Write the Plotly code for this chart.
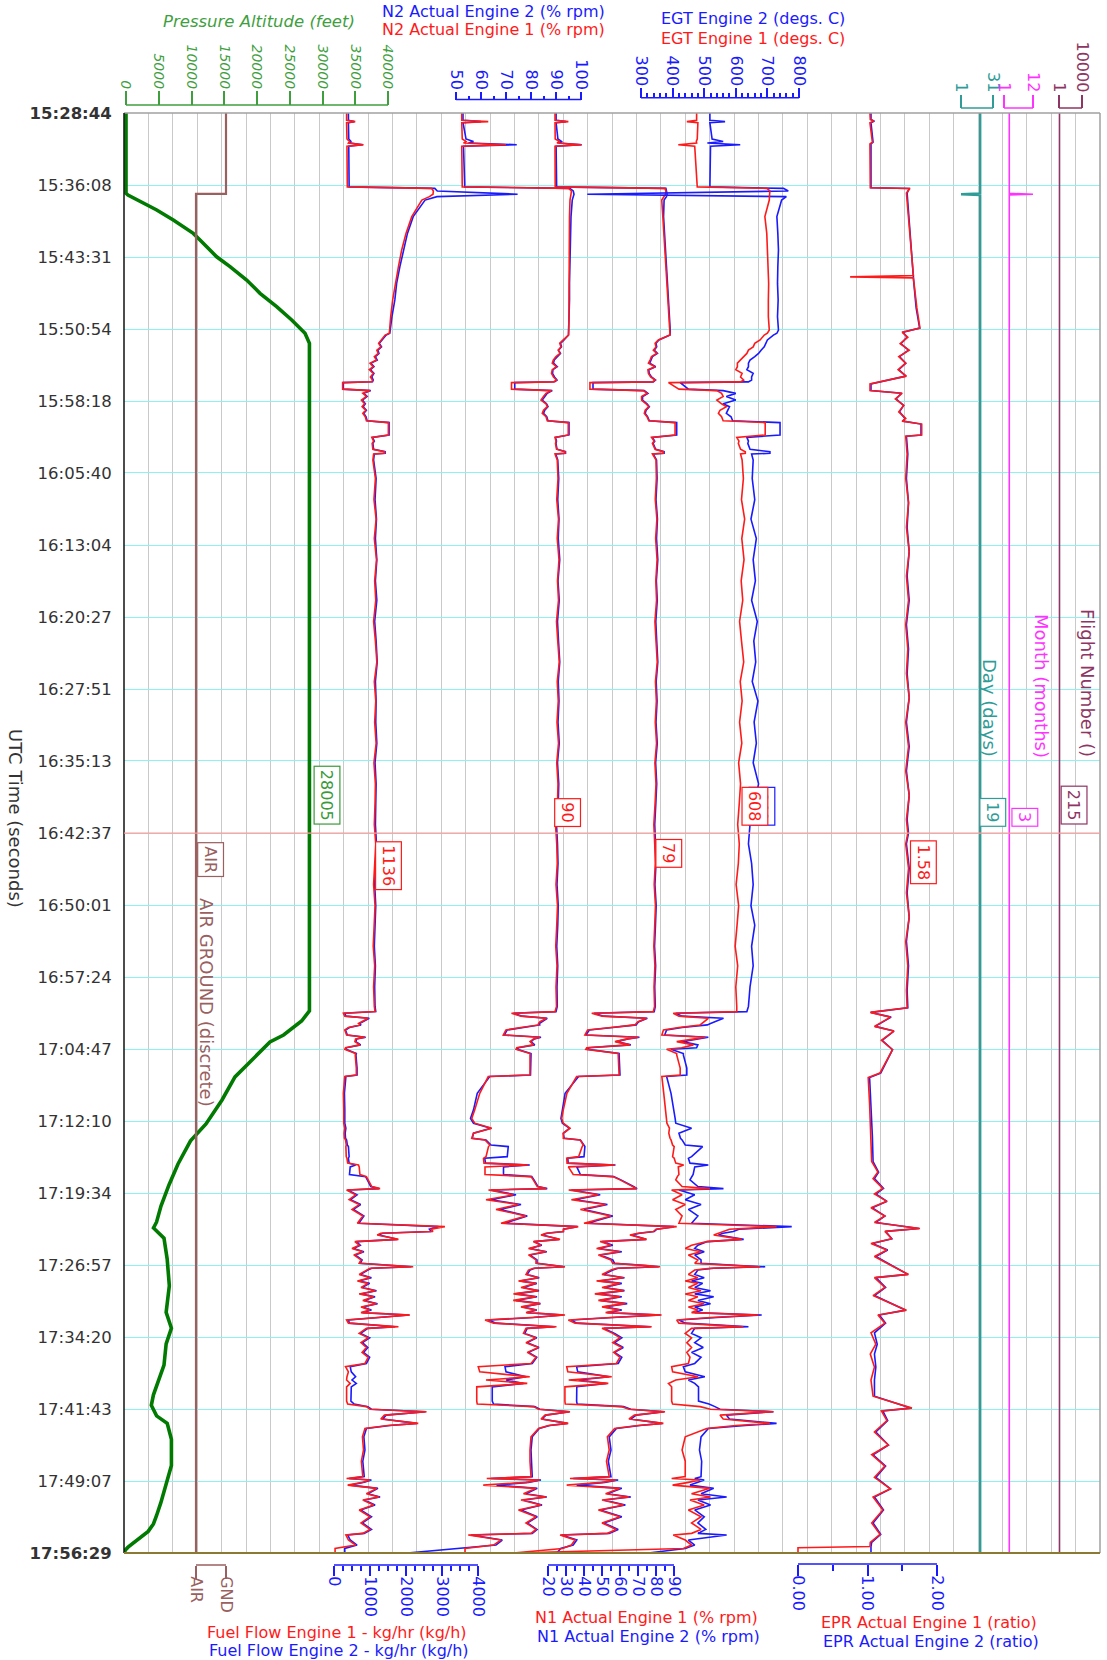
import plotly.graph_objects as go

W, H = 1107, 1660
PL, PR, PT, PB = 124, 1100, 113, 1553
FONT = "DejaVu Sans"

# ---------------- time axis ----------------
TIME_LABELS = ["15:28:44", "15:36:08", "15:43:31", "15:50:54", "15:58:18", "16:05:40",
               "16:13:04", "16:20:27", "16:27:51", "16:35:13", "16:42:37", "16:50:01",
               "16:57:24", "17:04:47", "17:12:10", "17:19:34", "17:26:57", "17:34:20",
               "17:41:43", "17:49:07", "17:56:29"]
CURSOR_TIME = "16:42:37"

# ---------------- data (elapsed seconds from 15:28:44) ----------------
t_alt = [0, 494, 505, 556, 597, 659, 700, 741, 782, 885, 946, 1028, 1110, 1192, 1274, 1356, 1418,
         5528, 5590, 5676, 5719, 5817, 5934, 6076, 6224, 6328, 6470, 6599, 6729, 6827, 6864,
         6927, 7057, 7220, 7383, 7481, 7578, 7709, 7806, 7891, 7956, 8021, 8067, 8165, 8327,
         8425, 8490, 8555, 8634, 8686, 8732, 8771, 8803, 8829, 8849, 8865]
alt_ft = [0, 0, 300, 2640, 4690, 7220, 8750, 10270, 11300, 13840, 15880, 18420, 20460, 23000, 25300, 27330, 28005,
          28005, 26810, 24060, 21980, 19540, 16640, 14660, 12210, 9850, 7940, 6560, 5340, 4670, 4200,
          5800, 6290, 6615, 6130, 6935, 6130, 5800, 4995, 4190, 3865, 4670, 6290, 6935, 6935,
          6290, 5800, 5320, 4670, 4190, 3385, 2090, 960, 315, -170, -170]

t_airgnd = [0, 498, 498, 8865]
airgnd = [1, 1, 0, 0]          # 0 = AIR, 1 = GND
airgnd_labels = ["AIR", "GND"]

t_eng = [0, 45, 53, 60, 160, 175, 185, 195, 205, 455,
         464, 480, 500, 515, 536,
         638, 741, 843, 946, 1049, 1151, 1254, 1336,
         1356, 1367, 1397, 1418, 1440, 1460, 1480, 1500, 1521, 1540,
         1562, 1580, 1603, 1625, 1644, 1655, 1660, 1700, 1709, 1726,
         1745, 1767, 1790, 1808, 1830, 1849, 1870, 1895, 1906, 1982,
         1997, 2020, 2034, 2070, 2085, 2095, 2099, 2136,
         2250, 2380, 2500, 2620, 2750, 2880, 3000, 3130, 3250, 3380,
         3500, 3620, 3750, 3880, 4000, 4130, 4250, 4380, 4500, 4620,
         4750, 4880, 5000, 5130, 5250, 5380, 5500,
         5532, 5542, 5560, 5573, 5594, 5605, 5614, 5630, 5645, 5676,
         5690, 5700, 5717, 5737, 5755, 5764, 5790, 5799, 5880, 5922,
         5932, 6035, 6137, 6190, 6219, 6250, 6281, 6312, 6322, 6353,
         6363, 6425, 6435, 6465, 6476, 6488, 6535, 6548, 6568, 6609,
         6622, 6630, 6660, 6690, 6720, 6750, 6790, 6835, 6856, 6872,
         6886, 6897, 6907, 6934, 6948, 6970, 6990, 7010, 7030, 7061,
         7082, 7095, 7103, 7112, 7123, 7150, 7170, 7190, 7205, 7230,
         7250, 7270, 7287, 7310, 7330, 7350, 7369, 7385, 7400, 7415,
         7431, 7450, 7472, 7482, 7513, 7540, 7570, 7600, 7630, 7660,
         7698, 7718, 7750, 7780, 7800, 7821, 7842, 7930, 7948, 7964,
         7980, 7995, 8005, 8016, 8040, 8067, 8080, 8098, 8150, 8231,
         8300, 8395, 8406, 8416, 8430, 8447, 8467, 8500, 8520, 8539,
         8570, 8600, 8642, 8680, 8720, 8744, 8754, 8785, 8816, 8837,
         8865]

ff_e1 = [350, 350, 590, 350, 360, 430, 400, 820, 360, 370,
         2710, 2760, 2750, 2650, 2440,
         2160, 2000, 1880, 1790, 1700, 1630, 1575, 1540,
         1537, 1420, 1324, 1240, 1300, 1190, 1230, 1120, 1180, 1000,
         1090, 980, 1090, 1010, 1070, 1050, 240, 240, 1000, 800,
         900, 760, 850, 780, 880, 800, 870, 900, 1510, 1510,
         1050, 1100, 1060, 1080, 1400, 1400, 1100, 1080,
         1150, 1110, 1170, 1120, 1180, 1130, 1160, 1100, 1150, 1190,
         1120, 1160, 1130, 1170, 1110, 1150, 1140, 1120, 1160, 1130,
         1100, 1140, 1120, 1090, 1130, 1100, 1120,
         1140, 260, 300, 950, 770, 680, 720, 400, 300, 350,
         860, 600, 580, 720, 320, 300, 600, 590, 620, 620,
         300, 260, 270, 260, 270, 300, 280, 290, 320, 340,
         330, 340, 360, 380, 680, 700, 720, 900, 950, 1050,
         1280, 350, 600, 420, 700, 500, 800, 650, 3080, 2700,
         2750, 1300, 1200, 1790, 580, 700, 500, 800, 550, 750,
         700, 1500, 2200, 1000, 900, 700, 1000, 650, 950, 750,
         1150, 700, 1100, 800, 1180, 750, 1000, 750, 2110, 1200,
         350, 400, 1790, 900, 700, 950, 750, 900, 780, 950,
         860, 320, 400, 360, 350, 450, 350, 350, 380, 900,
         1000, 2570, 1900, 1400, 1300, 2340, 1500, 860, 790, 820,
         760, 800, 350, 1000, 800, 380, 1190, 900, 1250, 800,
         1100, 700, 1000, 750, 1000, 800, 330, 400, 600, 30,
         30]
ff_e2 = [400, 400, 560, 400, 410, 470, 450, 800, 410, 420,
         2800, 2870, 5100, 2860, 2530,
         2200, 2040, 1930, 1830, 1740, 1690, 1610, 1556,
         1550, 1450, 1340, 1260, 1320, 1220, 1250, 1150, 1200, 1030,
         1110, 1010, 1110, 1050, 1090, 1070, 260, 260, 1020, 830,
         920, 790, 870, 810, 900, 830, 890, 920, 1530, 1530,
         1070, 1120, 1080, 1100, 1420, 1420, 1120, 1100,
         1170, 1140, 1180, 1150, 1190, 1150, 1190, 1130, 1170, 1200,
         1150, 1170, 1160, 1190, 1140, 1170, 1160, 1150, 1180, 1160,
         1130, 1160, 1150, 1120, 1150, 1130, 1140,
         1160, 300, 330, 980, 800, 710, 750, 430, 320, 370,
         880, 630, 610, 740, 340, 330, 620, 610, 640, 640,
         330, 290, 300, 290, 300, 330, 310, 320, 350, 370,
         400, 420, 400, 420, 600, 450, 430, 880, 930, 1020,
         1250, 380, 640, 460, 740, 540, 830, 690, 2900, 2650,
         2700, 1350, 1250, 1760, 620, 730, 540, 830, 590, 780,
         730, 1450, 2150, 1050, 940, 740, 1040, 690, 990, 790,
         1180, 740, 1140, 840, 1210, 790, 1040, 790, 2080, 1240,
         400, 430, 1700, 940, 740, 990, 790, 940, 820, 990,
         900, 450, 480, 600, 500, 620, 480, 470, 560, 940,
         1040, 2540, 1950, 1450, 1350, 2300, 1550, 900, 830, 860,
         800, 840, 420, 1040, 840, 450, 1220, 940, 1280, 840,
         1140, 740, 1040, 790, 1040, 840, 380, 450, 640, 300,
         300]

n2_e1 = [52.3, 52.3, 62.9, 52.3, 52.5, 54.0, 53.0, 70.0, 52.3, 52.5,
         95.0, 96.2, 96.0, 95.8, 95.6,
         95.4, 95.3, 95.3, 95.2, 95.2, 95.2, 95.2, 95.2,
         95.0, 95.0, 92.9, 91.5, 92.0, 90.9, 91.6, 90.0, 88.9, 88.5,
         90.2, 88.5, 88.2, 89.0, 90.2, 89.0, 72.2, 72.2, 88.2, 86.0,
         85.0, 84.0, 86.0, 86.5, 85.0, 84.5, 86.0, 86.5, 94.9, 94.9,
         89.6, 90.0, 89.8, 90.2, 93.6, 93.6, 89.6, 90.5,
         90.8, 90.3, 91.0, 90.5, 91.2, 90.6, 91.0, 90.2, 90.7, 91.3,
         90.5, 90.9, 90.4, 91.0, 90.3, 90.8, 90.6, 89.8, 90.3, 90.5,
         90.0, 90.6, 90.3, 89.9, 90.4, 90.0, 90.2,
         89.6, 72.2, 76.0, 86.2, 83.6, 83.0, 83.0, 76.0, 70.0, 68.9,
         83.6, 81.0, 79.6, 81.0, 74.3, 74.0, 79.6, 79.6, 79.6, 79.6,
         62.9, 59.5, 57.5, 56.3, 57.5, 64.3, 57.0, 56.3, 61.6, 63.5,
         63.0, 62.0, 61.0, 61.2, 78.9, 61.6, 61.6, 80.0, 80.9, 82.5,
         86.2, 63.0, 73.0, 62.0, 75.0, 66.0, 78.0, 68.0, 98.9, 93.0,
         92.9, 86.0, 84.0, 91.6, 80.9, 84.0, 79.0, 86.0, 79.0, 82.0,
         82.0, 90.0, 93.6, 81.0, 79.0, 78.0, 83.0, 75.0, 82.0, 76.0,
         83.0, 73.0, 82.0, 72.9, 83.6, 76.0, 82.0, 78.0, 93.6, 80.0,
         61.6, 65.0, 90.2, 78.0, 77.0, 82.0, 78.0, 83.0, 78.5, 82.0,
         80.0, 58.9, 59.5, 79.5, 62.0, 78.5, 58.3, 58.3, 58.5, 81.0,
         83.0, 95.6, 90.0, 85.6, 84.0, 94.9, 87.0, 83.0, 80.0, 79.6,
         79.6, 80.0, 62.3, 83.6, 78.0, 60.9, 82.0, 77.0, 86.0, 76.0,
         84.0, 75.0, 82.0, 78.0, 82.0, 80.0, 54.9, 68.0, 65.0, 53.6,
         53.6]
n2_e2 = [52.8, 52.8, 60.0, 52.8, 54.0, 57.0, 55.0, 74.3, 53.0, 53.5,
         95.5, 96.9, 97.2, 97.0, 96.5,
         96.0, 95.8, 95.6, 95.5, 95.4, 95.4, 95.3, 95.3,
         95.2, 95.0, 93.2, 91.8, 92.2, 91.0, 91.8, 90.5, 89.3, 89.0,
         90.5, 88.8, 88.6, 89.4, 90.4, 89.5, 73.5, 73.5, 88.5, 86.5,
         85.5, 84.5, 86.2, 86.8, 85.5, 85.0, 86.3, 86.8, 95.2, 95.2,
         89.8, 90.2, 90.0, 90.4, 93.8, 93.8, 89.9, 90.7,
         91.1, 90.7, 91.2, 90.9, 91.5, 90.8, 91.3, 90.6, 91.0, 91.5,
         90.9, 91.2, 90.8, 91.3, 90.6, 91.1, 90.9, 90.2, 90.6, 90.8,
         90.4, 90.9, 90.7, 90.3, 90.7, 90.4, 90.5,
         90.0, 73.0, 76.5, 86.5, 84.0, 83.3, 83.5, 76.5, 70.5, 69.3,
         84.0, 81.3, 80.0, 81.5, 75.0, 74.5, 80.0, 80.0, 79.8, 79.8,
         63.5, 58.5, 57.0, 55.8, 57.0, 64.0, 57.0, 56.5, 62.0, 64.0,
         70.9, 70.5, 61.5, 61.8, 79.5, 69.0, 69.0, 80.3, 81.2, 82.8,
         86.5, 64.0, 74.0, 64.0, 76.0, 67.5, 78.5, 69.5, 98.5, 93.0,
         93.0, 86.5, 84.5, 91.2, 81.2, 84.3, 79.5, 86.3, 79.5, 82.4,
         82.4, 90.0, 93.4, 81.5, 79.6, 78.5, 83.3, 75.5, 82.3, 76.8,
         83.2, 74.0, 82.4, 74.0, 83.8, 76.8, 82.3, 78.5, 93.0, 81.0,
         63.0, 66.0, 89.5, 78.5, 77.5, 82.3, 78.5, 83.2, 79.0, 82.3,
         80.5, 69.6, 70.0, 78.0, 70.0, 77.0, 64.5, 64.5, 65.0, 81.5,
         83.5, 95.4, 90.2, 86.0, 84.4, 94.6, 87.5, 83.3, 80.5, 80.0,
         80.2, 80.5, 64.0, 84.0, 79.0, 66.2, 82.5, 78.0, 86.3, 77.0,
         84.4, 76.0, 82.5, 78.5, 82.4, 80.5, 56.0, 68.5, 66.0, 52.0,
         30.5]

n1_e1 = [23.9, 23.9, 31.3, 23.9, 24.0, 26.5, 25.0, 38.7, 23.9, 24.0,
         85.0, 85.5, 85.3, 84.5, 83.2,
         83.8, 84.4, 85.0, 85.6, 86.2, 86.8, 87.3, 87.8,
         87.8, 87.8, 81.3, 79.5, 80.0, 78.5, 80.4, 77.5, 76.7, 75.8,
         79.5, 75.5, 75.8, 77.0, 79.5, 78.0, 43.3, 43.3, 73.0, 75.0,
         72.0, 72.0, 74.5, 76.0, 74.0, 73.5, 75.0, 76.0, 90.6, 90.6,
         77.5, 79.0, 78.0, 79.5, 84.0, 84.0, 78.0, 80.0,
         80.2, 79.6, 80.5, 79.8, 80.6, 79.9, 80.3, 79.4, 80.0, 80.7,
         79.7, 80.2, 79.6, 80.3, 79.4, 80.0, 79.5, 78.8, 79.3, 79.6,
         79.0, 79.7, 79.3, 78.8, 79.4, 78.9, 79.2,
         78.5, 44.3, 50.0, 74.8, 70.0, 69.0, 68.3, 55.0, 42.0, 40.5,
         70.2, 64.0, 57.2, 65.5, 41.5, 41.0, 59.0, 59.0, 59.5, 59.5,
         35.9, 30.5, 28.5, 27.6, 28.5, 32.2, 28.5, 28.5, 37.8, 39.6,
         39.0, 37.0, 30.4, 30.6, 57.2, 31.3, 34.0, 56.0, 60.0, 67.0,
         69.2, 31.5, 48.0, 33.0, 52.0, 38.0, 55.0, 40.0, 91.5, 80.0,
         78.5, 70.0, 65.5, 74.8, 48.9, 55.0, 47.0, 60.0, 48.0, 55.0,
         56.0, 75.0, 82.2, 58.0, 55.0, 50.0, 62.0, 47.0, 60.0, 50.0,
         62.0, 46.0, 60.0, 48.0, 63.0, 50.0, 60.0, 52.0, 83.1, 55.0,
         31.3, 35.0, 77.6, 50.0, 56.0, 60.0, 56.0, 61.0, 56.5, 60.0,
         58.0, 30.4, 31.0, 55.4, 31.5, 53.5, 29.4, 29.4, 29.6, 61.0,
         65.0, 85.0, 75.0, 68.0, 65.0, 84.1, 70.0, 57.0, 53.0, 54.0,
         52.5, 54.0, 32.2, 58.0, 50.0, 30.4, 60.0, 52.0, 65.0, 50.0,
         62.0, 48.0, 60.0, 50.0, 58.0, 53.0, 26.7, 35.0, 33.0, 28.0,
         0.7]
n1_e2 = [24.5, 24.5, 30.0, 24.5, 25.5, 27.5, 26.0, 38.7, 24.5, 24.8,
         85.5, 86.0, 86.2, 85.8, 84.5,
         84.2, 84.8, 85.3, 85.9, 86.4, 87.0, 87.5, 87.9,
         87.9, 87.8, 81.6, 80.0, 80.4, 79.0, 80.8, 78.0, 77.2, 76.5,
         79.8, 76.0, 76.2, 77.5, 79.7, 78.5, 45.0, 45.0, 73.5, 75.5,
         72.6, 72.5, 75.0, 76.3, 74.5, 74.0, 75.3, 76.3, 91.5, 91.5,
         78.0, 79.3, 78.4, 79.8, 84.5, 84.5, 78.4, 80.3,
         80.6, 80.0, 80.8, 80.3, 81.0, 80.2, 80.7, 79.9, 80.4, 81.0,
         80.1, 80.6, 80.0, 80.7, 79.8, 80.4, 79.9, 79.3, 79.7, 80.0,
         79.4, 80.1, 79.7, 79.2, 79.8, 79.3, 79.6,
         79.0, 45.5, 51.0, 75.2, 70.5, 69.5, 69.0, 56.0, 43.0, 41.0,
         70.8, 64.5, 58.0, 66.0, 42.5, 42.0, 59.5, 59.5, 60.0, 60.0,
         37.0, 29.5, 28.0, 27.2, 28.0, 32.0, 28.5, 29.0, 38.0, 40.0,
         40.5, 40.0, 31.0, 31.2, 57.5, 36.0, 38.0, 56.5, 60.5, 67.5,
         69.5, 33.0, 49.0, 35.0, 53.0, 40.0, 56.0, 42.0, 90.0, 80.5,
         79.0, 71.0, 66.5, 74.5, 50.0, 56.0, 48.0, 61.0, 49.0, 56.0,
         57.0, 74.0, 81.5, 59.0, 56.0, 51.0, 62.5, 48.0, 61.0, 51.0,
         62.5, 47.5, 61.0, 49.0, 64.0, 51.0, 61.0, 53.0, 82.5, 56.0,
         33.0, 36.0, 77.0, 51.0, 57.0, 61.0, 57.0, 61.8, 57.0, 61.0,
         59.0, 35.9, 36.5, 54.0, 37.0, 52.5, 36.0, 35.9, 36.2, 62.0,
         66.0, 84.5, 75.5, 69.0, 66.0, 83.5, 71.0, 58.0, 54.0, 55.0,
         53.5, 55.0, 34.0, 59.0, 51.5, 35.9, 61.0, 53.0, 66.0, 51.0,
         63.0, 49.0, 61.0, 51.0, 59.0, 54.0, 27.5, 36.0, 34.0, 27.0,
         25.0]

egt_e1 = [476, 476, 445, 480, 478, 475, 476, 418, 470, 478,
          698, 708, 707, 706, 706,
          692, 698, 700, 702, 704, 703, 703, 706,
          700, 690, 677, 660, 655, 640, 635, 625, 613, 605,
          605, 600, 620, 615, 625, 615, 387, 420, 540, 555,
          560, 540, 555, 570, 550, 545, 555, 560, 693, 693,
          603, 610, 608, 615, 630, 630, 615, 620,
          624, 618, 628, 619, 626, 617, 622, 612, 618, 625,
          614, 620, 612, 619, 609, 615, 611, 606, 611, 608,
          601, 609, 604, 598, 606, 600, 603,
          603, 402, 420, 513, 498, 490, 487, 420, 371, 366,
          503, 470, 413, 466, 429, 381, 413, 413, 424, 424,
          366, 372, 378, 380, 382, 390, 388, 392, 395, 400,
          405, 400, 405, 410, 435, 418, 420, 415, 410, 430,
          518, 397, 430, 400, 440, 410, 430, 420, 729, 580,
          561, 545, 530, 619, 508, 460, 440, 490, 450, 480,
          470, 600, 677, 520, 470, 450, 480, 440, 480, 450,
          490, 440, 480, 450, 500, 450, 480, 460, 672, 520,
          413, 420, 624, 460, 440, 460, 445, 460, 445, 455,
          450, 397, 400, 481, 410, 387, 397, 397, 400, 487,
          520, 719, 620, 550, 560, 708, 600, 508, 440, 430,
          440, 440, 397, 487, 450, 400, 518, 460, 520, 455,
          500, 450, 490, 460, 490, 460, 402, 440, 460, 434,
          -100]
egt_e2 = [518, 518, 566, 518, 525, 560, 510, 614, 520, 518,
          751, 766, 130, 760, 745,
          730, 733, 735, 733, 732, 734, 732, 735,
          730, 719, 700, 695, 690, 680, 672, 660, 645, 640,
          640, 635, 655, 650, 650, 640, 424, 450, 560, 600,
          570, 600, 560, 580, 575, 570, 585, 590, 740, 740,
          635, 640, 638, 645, 708, 708, 650, 655,
          652, 660, 648, 665, 655, 662, 650, 668, 657, 663,
          652, 670, 658, 665, 655, 672, 660, 645, 640, 650,
          655, 648, 660, 650, 655, 645, 640,
          635, 410, 430, 561, 530, 520, 510, 430, 381, 375,
          513, 480, 430, 480, 476, 395, 434, 434, 445, 445,
          381, 395, 405, 408, 410, 460, 420, 425, 430, 440,
          495, 460, 450, 455, 513, 470, 465, 460, 455, 480,
          561, 420, 470, 440, 490, 450, 480, 460, 777, 610,
          592, 560, 545, 625, 510, 480, 470, 500, 470, 490,
          490, 610, 693, 530, 480, 470, 500, 460, 495, 470,
          520, 470, 530, 480, 520, 470, 495, 470, 682, 540,
          420, 440, 640, 470, 460, 490, 470, 497, 460, 490,
          470, 434, 440, 502, 450, 470, 482, 482, 515, 534,
          550, 719, 640, 570, 580, 729, 630, 513, 490, 485,
          492, 490, 470, 500, 480, 455, 530, 490, 571, 480,
          520, 470, 500, 480, 505, 480, 571, 450, 470, 440,
          323]

t_epr = [0, 40, 50, 60, 180, 190, 460, 465, 493, 700,
         1000, 1009, 1015, 1200, 1324, 1350, 1380, 1420, 1460, 1500,
         1540, 1580, 1620, 1668, 1708, 1725, 1760, 1800, 1840, 1880,
         1897, 1915, 1983, 1990,
         2100, 2250, 2400, 2550, 2700, 2850, 3000, 3150, 3300, 3450,
         3600, 3750, 3900, 4050, 4200, 4350, 4433, 4500, 4650, 4800,
         4950, 5100, 5250, 5400, 5509,
         5537, 5566, 5623, 5652, 5709, 5766, 5910, 5938, 6100, 6300,
         6455, 6520, 6560, 6620, 6655, 6700, 6740, 6790, 6830, 6867,
         6885, 6930, 6960, 7000, 7040, 7090, 7150, 7170, 7230, 7280,
         7370, 7400, 7450, 7510, 7580, 7640, 7720, 7800, 7900, 7973,
         7990, 8050, 8120, 8200, 8260, 8330, 8400, 8470, 8520, 8600,
         8680, 8750, 8800, 8825, 8833, 8865]
epr_e1 = [1.035, 1.04, 1.09, 1.035, 1.07, 1.035, 1.04, 1.61, 1.56, 1.60,
          1.66, 0.75, 1.66, 1.71, 1.755, 1.50, 1.58, 1.47, 1.60, 1.45,
          1.55, 1.44, 1.56, 1.036, 1.036, 1.50, 1.40, 1.52, 1.45, 1.55,
          1.50, 1.78, 1.78, 1.55,
          1.57, 1.55, 1.59, 1.56, 1.60, 1.56, 1.59, 1.55, 1.58, 1.56,
          1.60, 1.55, 1.59, 1.55, 1.60, 1.56, 1.58, 1.55, 1.59, 1.56,
          1.60, 1.55, 1.58, 1.56, 1.57,
          1.04, 1.33, 1.10, 1.38, 1.20, 1.36, 1.18, 1.01, 1.03, 1.05,
          1.06, 1.15, 1.08, 1.22, 1.10, 1.28, 1.05, 1.25, 1.10, 1.755,
          1.25, 1.35, 1.05, 1.28, 1.10, 1.32, 1.59, 1.10, 1.25, 1.08,
          1.56, 1.15, 1.25, 1.05, 1.12, 1.04, 1.10, 1.05, 1.08, 1.64,
          1.20, 1.28, 1.10, 1.30, 1.06, 1.25, 1.10, 1.33, 1.08, 1.22,
          1.06, 1.18, 1.04, 1.036, 0.0, 0.0]
epr_e2 = [1.05, 1.05, 1.10, 1.05, 1.08, 1.05, 1.05, 1.60, 1.57, 1.61,
          1.66, 1.66, 1.66, 1.70, 1.75, 1.51, 1.57, 1.48, 1.59, 1.46,
          1.55, 1.45, 1.55, 1.05, 1.05, 1.49, 1.41, 1.52, 1.46, 1.54,
          1.51, 1.77, 1.77, 1.56,
          1.58, 1.56, 1.59, 1.57, 1.60, 1.57, 1.60, 1.56, 1.59, 1.57,
          1.60, 1.56, 1.60, 1.56, 1.60, 1.57, 1.59, 1.56, 1.60, 1.57,
          1.60, 1.56, 1.59, 1.57, 1.58,
          1.05, 1.34, 1.11, 1.38, 1.21, 1.36, 1.19, 1.03, 1.05, 1.07,
          1.08, 1.16, 1.10, 1.23, 1.12, 1.28, 1.07, 1.25, 1.12, 1.74,
          1.26, 1.35, 1.07, 1.29, 1.12, 1.32, 1.58, 1.12, 1.26, 1.10,
          1.55, 1.17, 1.26, 1.10, 1.14, 1.10, 1.12, 1.10, 1.10, 1.62,
          1.22, 1.29, 1.12, 1.30, 1.08, 1.26, 1.12, 1.33, 1.10, 1.23,
          1.08, 1.19, 1.06, 1.05, 1.05, 1.05]

t_day = [0, 495, 500, 505, 8865]
day = [19, 19, 1, 19, 19]
month = [3, 3, 12, 3, 3]
t_flight = [0, 8865]
flight = [215, 215]

# cursor read-outs
readout_alt, readout_ag, readout_ff, readout_n2, readout_n1 = 28005, "AIR", 1136, 90, 79
readout_egt, readout_egt2, readout_epr = 608, 640, 1.58
readout_day, readout_month, readout_flight = 19, 3, 215

# ---------------- helpers ----------------
def hms(s):
    h, m, sec = map(int, s.split(":"))
    return h * 3600 + m * 60 + sec

T0 = hms(TIME_LABELS[0])
TICKS = [hms(s) - T0 for s in TIME_LABELS]
TEND = TICKS[-1]
TCUR = hms(CURSOR_TIME) - T0

def pxx(p):
    return (p - PL) / (PR - PL)

def pxy(p):
    return 1 - p / H

def band(v0, v1, p0, p1):
    k = (v1 - v0) / (p1 - p0)
    return [v0 - (p0 - PL) * k, v1 + (PR - p1) * k]

GREEN, GREEN_T = "#007a00", "#3f9f3f"
BLUE, RED = "#1a1aff", "#ff1a1a"
BROWN = "#9a5f5f"
TEAL, MAGENTA, MAROON = "#2f9c98", "#ff33ff", "#8e3563"
OLIVE = "#8c7a32"
TICKSIZE = 16
TITLESIZE = 16

fig = go.Figure()

layout_axes = {}
layout_axes["xaxis"] = dict(range=[0, 40], dtick=1, tick0=0, showgrid=True, gridcolor="#c9c9c9",
                            gridwidth=1.3, showticklabels=False, ticks="", zeroline=False,
                            showline=False, fixedrange=True)
ticktext = [("<b>%s</b>" % s) if i in (0, len(TIME_LABELS) - 1) else s for i, s in enumerate(TIME_LABELS)]
layout_axes["yaxis"] = dict(domain=[pxy(PB), pxy(PT)], range=[TEND, 0], tickmode="array",
                            tickvals=TICKS, ticktext=ticktext, showgrid=True, gridcolor="#8ef2f2",
                            gridwidth=1.4, ticks="outside", ticklen=8, tickcolor="rgba(0,0,0,0)",
                            tickfont=dict(family=FONT, size=16.5, color="#333333"), zeroline=False,
                            showline=False, fixedrange=True)

AX = {
    "alt": dict(n=2, v=(0, 40000), p=(126, 388), side="top", pos=105, color=GREEN_T,
                major=list(range(0, 40001, 5000)), minor=[], tl=14, mtl=7, so=-3, italic=True),
    "ag": dict(n=3, v=(0, 1), p=(196, 226), side="bottom", pos=1565, color=BROWN,
               major=[0, 1], text=airgnd_labels, minor=[], tl=13, mtl=6, so=-6),
    "ff": dict(n=4, v=(0, 4000), p=(334, 478), side="bottom", pos=1565, color=BLUE,
               major=list(range(0, 4001, 1000)), minor=[v for v in range(0, 4001, 250) if v % 1000],
               tl=10, mtl=5, so=-3),
    "n2": dict(n=5, v=(50, 100), p=(456, 581), side="top", pos=99.5, color=BLUE,
               major=list(range(50, 101, 10)), minor=list(range(55, 100, 10)), tl=8, mtl=4, so=-4),
    "n1": dict(n=6, v=(20, 90), p=(548, 674), side="bottom", pos=1565, color=BLUE,
               major=list(range(20, 91, 10)), minor=list(range(25, 90, 10)), tl=10, mtl=5, so=-3),
    "egt": dict(n=7, v=(300, 800), p=(641, 799), side="top", pos=97.7, color=BLUE,
                major=list(range(300, 801, 100)), minor=[v for v in range(300, 801, 20) if v % 100],
                tl=10, mtl=5, so=-4),
    "epr": dict(n=8, v=(0, 2), p=(798, 937), side="bottom", pos=1564, color=BLUE,
                major=[0, 1, 2], text=["0.00", "1.00", "2.00"], minor=[0.5, 1.5], tl=11, mtl=6, so=-4),
    "day": dict(n=9, v=(1, 31), p=(961, 993), side="top", pos=108, color=TEAL,
                major=[1, 31], minor=[], tl=13, mtl=6, so=-3),
    "month": dict(n=10, v=(1, 12), p=(1004, 1033), side="top", pos=108, color=MAGENTA,
                  major=[1, 12], minor=[], tl=13, mtl=6, so=-3),
    "fn": dict(n=11, v=(1, 10000), p=(1059, 1082), side="top", pos=108, color=MAROON,
               major=[1, 10000], minor=[], tl=13, mtl=6, so=-3),
}

shapes = []
for key, a in AX.items():
    font = dict(family=FONT, size=14 if key == "alt" else TICKSIZE, color=a["color"])
    if a.get("italic"):
        font["style"] = "italic"
    d = dict(overlaying="x", anchor="free", position=pxy(a["pos"]), side=a["side"],
             range=band(a["v"][0], a["v"][1], a["p"][0], a["p"][1]), tickmode="array",
             tickvals=a["major"], ticktext=a.get("text", [str(v) for v in a["major"]]),
             tickangle=90, ticks="outside", ticklen=a["tl"], tickwidth=1.5, tickcolor=a["color"],
             ticklabelstandoff=a["so"], tickfont=font, showgrid=False, zeroline=False,
             showline=False, fixedrange=True)
    if a["minor"]:
        d["minor"] = dict(tickmode="array", tickvals=a["minor"], ticks="outside",
                          ticklen=a["mtl"], tickwidth=1.5, tickcolor=a["color"], showgrid=False)
    layout_axes["xaxis%d" % a["n"]] = d
    shapes.append(dict(type="line", xref="x%d" % a["n"], yref="paper", x0=a["v"][0], x1=a["v"][1],
                       y0=pxy(a["pos"]), y1=pxy(a["pos"]), line=dict(color=a["color"], width=1.5)))

def ax(key):
    return "x%d" % AX[key]["n"]

def add_line(t, v, key, color, width=1.6, dash=None):
    fig.add_trace(go.Scatter(x=v, y=t, xaxis=ax(key), yaxis="y", mode="lines",
                             line=dict(color=color, width=width, dash=dash),
                             hoverinfo="skip", showlegend=False))

fig.add_trace(go.Scatter(x=[0, 40], y=[0, TEND], mode="markers", marker=dict(opacity=0),
                         hoverinfo="skip", showlegend=False))

add_line(t_airgnd, airgnd, "ag", BROWN, 2.2)
add_line(t_alt, alt_ft, "alt", GREEN, 3.6)
add_line(t_eng, ff_e2, "ff", BLUE)
add_line(t_eng, n2_e2, "n2", BLUE)
add_line(t_eng, n1_e2, "n1", BLUE)
add_line(t_eng, egt_e2, "egt", BLUE)
add_line(t_epr, epr_e2, "epr", BLUE)
add_line(t_eng, ff_e1, "ff", RED)
add_line(t_eng, n2_e1, "n2", RED)
add_line(t_eng, n1_e1, "n1", RED)
add_line(t_eng, egt_e1, "egt", RED)
add_line(t_epr, epr_e1, "epr", RED)
add_line(t_day, day, "day", TEAL, 2.4)
add_line(t_day, month, "month", MAGENTA, 1.6)
add_line(t_flight, flight, "fn", MAROON, 1.6)

for xm, sym in ((-0.28, "triangle-right"), (40.2, "triangle-left")):
    fig.add_trace(go.Scatter(x=[xm], y=[TCUR], mode="markers", cliponaxis=False,
                             marker=dict(symbol=sym, size=9, color="#ff8a8a"),
                             hoverinfo="skip", showlegend=False))
    fig.add_trace(go.Scatter(x=[xm], y=[TEND], mode="markers", cliponaxis=False,
                             marker=dict(symbol=sym, size=9, color=OLIVE),
                             hoverinfo="skip", showlegend=False))

y_top, y_bot = pxy(PT), pxy(PB)
shapes += [
    dict(type="line", xref="paper", yref="paper", x0=0, x1=1, y0=y_top, y1=y_top, line=dict(color="#a0a0a0", width=1.5)),
    dict(type="line", xref="paper", yref="paper", x0=1, x1=1, y0=y_bot, y1=y_top, line=dict(color="#a0a0a0", width=1.5)),
    dict(type="line", xref="paper", yref="paper", x0=0, x1=0, y0=y_bot, y1=y_top, line=dict(color="#111111", width=1.5)),
    dict(type="line", xref="paper", yref="paper", x0=0, x1=1, y0=y_bot, y1=y_bot, line=dict(color=OLIVE, width=2)),
    dict(type="line", xref="paper", yref="y", x0=0, x1=1, y0=TCUR, y1=TCUR, line=dict(color="#ff9a9a", width=1.4)),
]

annotations = []

def title(text, cx, cy, color, size=TITLESIZE, angle=0, italic=False):
    f = dict(family=FONT, size=size, color=color)
    if italic:
        f["style"] = "italic"
    annotations.append(dict(text=text, x=pxx(cx), y=pxy(cy), xref="paper", yref="paper",
                            xanchor="center", yanchor="middle", showarrow=False,
                            textangle=angle, font=f))

title("Pressure Altitude (feet)", 259, 22, GREEN_T, 16.5, italic=True)
title("N2 Actual Engine 2 (% rpm)", 493, 11, BLUE)
title("N2 Actual Engine 1 (% rpm)", 493, 29, RED)
title("EGT Engine 2 (degs. C)", 753, 19, BLUE)
title("EGT Engine 1 (degs. C)", 753, 38, RED)
title("Fuel Flow Engine 1 - kg/hr (kg/h)", 337, 1632, RED)
title("Fuel Flow Engine 2 - kg/hr (kg/h)", 339, 1650, BLUE)
title("N1 Actual Engine 1 (% rpm)", 646, 1617, RED)
title("N1 Actual Engine 2 (% rpm)", 648, 1636, BLUE)
title("EPR Actual Engine 1 (ratio)", 929, 1622, RED)
title("EPR Actual Engine 2 (ratio)", 931, 1641, BLUE)
title("Day (days)", 990, 708, TEAL, 18, angle=90)
title("Month (months)", 1042, 686, MAGENTA, 18, angle=90)
title("Flight Number ()", 1088, 683, MAROON, 18, angle=90)
title("AIR GROUND (discrete)", 207, 1002, BROWN, 18, angle=90)
title("UTC Time (seconds)", 16, 818, "#333333", 18, angle=90)

def readout(text, key, xval, color, dx, dy, border=None):
    annotations.append(dict(text=text, x=xval, y=TCUR, xref=ax(key), yref="y", xanchor="center",
                            yanchor="middle", xshift=dx, yshift=dy, showarrow=False, textangle=90,
                            bgcolor="white", bordercolor=border or color, borderwidth=1.2, borderpad=3,
                            font=dict(family=FONT, size=16, color=color)))

readout(str(readout_alt), "alt", readout_alt, "#3a9a3a", 18, 38)
readout(readout_ag, "ag", airgnd_labels.index(readout_ag), BROWN, 15, -26)
readout(str(readout_ff), "ff", readout_ff, RED, 14, -33)
readout(str(readout_n2), "n2", readout_n2, RED, 12, 21)
readout(str(readout_n1), "n1", readout_n1, RED, 15, -20)
readout(str(readout_egt2), "egt", readout_egt, BLUE, 24, 27)
readout(str(readout_egt), "egt", readout_egt, RED, 17, 27)
readout("%.2f" % readout_epr, "epr", readout_epr, RED, 16, -29)
readout(str(readout_day), "day", readout_day, TEAL, 13, 21)
readout(str(readout_month), "month", readout_month, MAGENTA, 16, 16)
readout(str(readout_flight), "fn", readout_flight, MAROON, 15, 28)

fig.update_layout(width=W, height=H, template="none", showlegend=False,
                  margin=dict(l=PL, r=W - PR, t=0, b=0, autoexpand=False),
                  paper_bgcolor="white", plot_bgcolor="white",
                  font=dict(family=FONT, size=15, color="#333333"),
                  shapes=shapes, annotations=annotations, **layout_axes)

fig.write_html("out.html", config={"displayModeBar": False},
               post_script="document.body.style.margin='0px';document.body.style.overflow='hidden';")
